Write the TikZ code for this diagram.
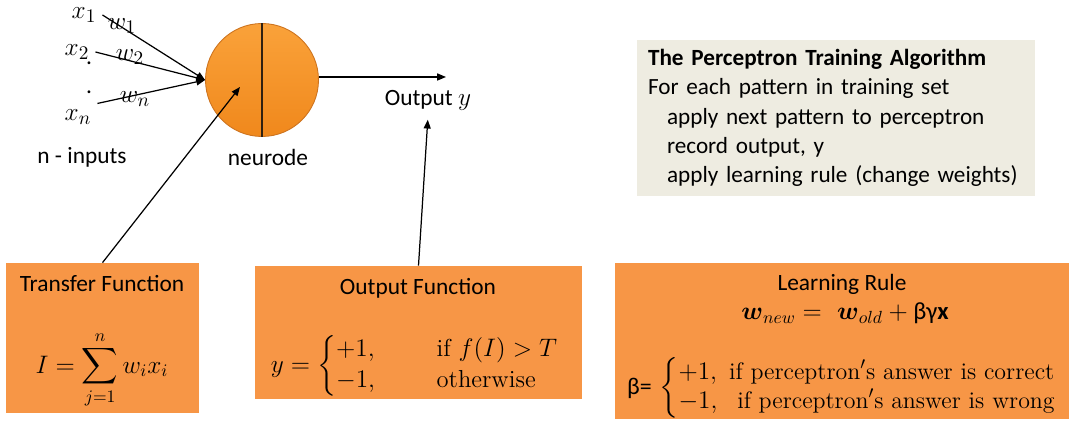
\documentclass[tikz,border=0pt]{standalone}
\usepackage{amsmath}
\usepackage{fontspec}
\newfontfamily\calfont{Carlito}
\usetikzlibrary{arrows.meta,positioning}
\definecolor{boxorange}{RGB}{247,150,70}
\definecolor{algobg}{RGB}{238,236,225}
\definecolor{ballhi}{RGB}{250,162,58}
\definecolor{balllo}{RGB}{240,136,28}
\definecolor{ballrim}{RGB}{205,115,30}
% brace with two rows, set tight
\newcommand\twocases[2]{\renewcommand\arraystretch{1.05}\left\{\begin{array}{@{}#1@{}}#2\end{array}\right.}
\begin{document}
\begin{tikzpicture}[x=0.02cm,y=-0.02cm,
  every node/.style={font=\calfont\fontsize{13.3}{16}\selectfont},
  arr/.style={-{Triangle[length=5pt,width=4pt]}, line width=0.7pt},
  mathlbl/.style={font=\fontsize{15}{17}\selectfont},
  mathbig/.style={font=\fontsize{14}{17}\selectfont},
  orangebox/.style={fill=boxorange, inner sep=0pt},
  algobox/.style={fill=algobg, align=left, text width=7.52cm, minimum height=3.12cm,
    inner xsep=0.22cm, font=\calfont\fontsize{13.2}{16.6}\selectfont}]
\useasboundingbox (0,0) rectangle (1072,421);
% neurode
\node[circle, minimum size=2.26cm, inner sep=0pt, top color=ballhi, bottom color=balllo,
  draw=ballrim, line width=0.5pt] (neuron) at (262,80) {};
\draw[line width=0.8pt, black!75!brown] (neuron.north) -- (neuron.south);
\node (nlbl) at (268,157) {neurode};
% inputs
\node[mathlbl] (x1) at (84,15) {$x_1$};
\node[mathlbl] (x2) at (77,52) {$x_2$};
\node[mathlbl] (xn) at (78,117) {$x_n$};
\node (dotA) at (89,63) {.};
\node (dotB) at (89,92) {.};
\draw[arr] (x1.east) -- (neuron.west);
\draw[arr] (x2.east) -- (neuron.west);
\draw[arr] (xn.north east) -- (neuron.west);
\node[mathlbl] (w1) at (122,26) {$w_1$};
\node[mathlbl] (w2) at (130,57) {$w_2$};
\node[mathlbl] (wn) at (135,99) {$w_n$};
\node (inlbl) at (82,157) {n - inputs};
% output
\coordinate (outend) at (446,77);
\draw[arr] (neuron.east |- outend) -- (outend);
\node (outlbl) at (428,100) {Output $y$};
% transfer function
\node[orangebox, minimum width=3.86cm, minimum height=3cm] (tbox) at (102.5,338) {};
\node (ttitle) at (102,284) {Transfer Function};
\node[mathbig, inner sep=0pt] (tform) at (102,370) {$\displaystyle I=\sum_{j=1}^{n} w_i x_i$};
\coordinate (tin) at (240,87);
\draw[arr] (tbox.north) -- (tin);
% output function
\node[orangebox, minimum width=6.54cm, minimum height=2.66cm] (obox) at (418.5,332.5) {};
\node (otitle) at (418,288) {Output Function};
\node[mathbig] (oform) at (415,366)
  {$y=\twocases{l@{\qquad\enspace}l}{+1, & \textrm{if } f(I)>T\\ -1, & \textrm{otherwise}}$};
\draw[arr, shorten >=2pt] (obox.north) -- (outlbl.south);
% learning rule
\node[orangebox, minimum width=9.1cm, minimum height=3.12cm] (lbox) at (842,341) {};
\node (ltitle) at (842,284) {Learning Rule};
\node[mathbig] (lform) at (845,313)
  {$\boldsymbol{w}_{new} =\ \boldsymbol{w}_{old} + \mbox{\calfont βγ\textbf{x}}$};
\node[font=\fontsize{13.6}{16}\selectfont] (lbeta) at (842,388)
  {{\calfont β=}\ $\twocases{l}{+1,\ \textrm{if perceptron}'\textrm{s answer is correct}\\
   -1,\ \ \textrm{if perceptron}'\textrm{s answer is wrong}}$};
% algorithm
\node[algobox] (algo) at (836,118) {\textbf{The Perceptron Training Algorithm}\\
  For each pattern in training set\\
  \hspace*{0.38cm}apply next pattern to perceptron\\
  \hspace*{0.38cm}record output, y\\
  \hspace*{0.38cm}apply learning rule (change weights)};
\end{tikzpicture}
\end{document}
